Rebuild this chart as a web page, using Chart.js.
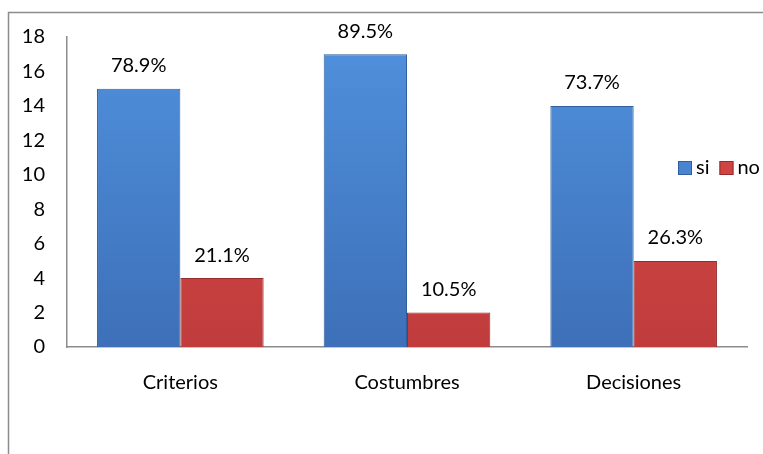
<!DOCTYPE html>
<html lang="es">
<head>
    <meta charset="UTF-8">
    <title>si / no</title>
    <style>
        body {
            margin: 0;
            background: #fff;
        }
        #wrap {
            width: 763px;
            height: 454px;
        }
    </style>
</head>
<body>
    <div id="wrap"><canvas id="chart" width="763" height="454"></canvas></div>

    <script src="https://cdn.jsdelivr.net/npm/chart.js"></script>
    <script>
        const categories = ['Criterios', 'Costumbres', 'Decisiones'];
        const siValues = [15, 17, 14];
        const noValues = [4, 2, 5];
        const siLabels = ['78.9%', '89.5%', '73.7%'];
        const noLabels = ['21.1%', '10.5%', '26.3%'];
        const yTicks = [0, 2, 4, 6, 8, 10, 12, 14, 16, 18];

        const FONT = 'Lato, "Open Sans", sans-serif';
        const blue = '#4a84d0';
        const red = '#d14444';

        // soft vertical shading like the office bevel look
        function shade(light, dark) {
            return (c) => {
                const area = c.chart.chartArea;
                if (!area) return light;
                const g = c.chart.ctx.createLinearGradient(0, area.top, 0, area.bottom);
                g.addColorStop(0, light);
                g.addColorStop(1, dark);
                return g;
            };
        }

        // outer frame (only left and top edges are visible in the picture)
        const framePlugin = {
            id: 'frame',
            beforeDraw(chart) {
                const ctx = chart.ctx;
                ctx.save();
                ctx.strokeStyle = '#8c8c8c';
                ctx.lineWidth = 1.5;
                ctx.beginPath();
                ctx.moveTo(8.5, chart.height);
                ctx.lineTo(8.5, 12.5);
                ctx.lineTo(chart.width, 12.5);
                ctx.stroke();
                ctx.restore();
            }
        };

        // percentage labels above each bar
        const valueLabels = {
            id: 'valueLabels',
            afterDatasetsDraw(chart) {
                const ctx = chart.ctx;
                ctx.save();
                ctx.font = '20px ' + FONT;
                ctx.fillStyle = '#000';
                ctx.textAlign = 'center';
                ctx.textBaseline = 'bottom';
                [siLabels, noLabels].forEach((labels, i) => {
                    chart.getDatasetMeta(i).data.forEach((bar, j) => {
                        ctx.fillText(labels[j], bar.x, bar.y - 13);
                    });
                });
                ctx.restore();
            }
        };

        // legend sitting on the right, over the plot
        const legendColors = [blue, red];
        const sideLegend = {
            id: 'sideLegend',
            afterDraw(chart) {
                const ctx = chart.ctx;
                const y = 168;
                let x = 678;
                ctx.save();
                ctx.font = '20px ' + FONT;
                ctx.textBaseline = 'middle';
                chart.data.datasets.forEach((ds, i) => {
                    ctx.fillStyle = legendColors[i];
                    ctx.fillRect(x, y - 7, 14, 14);
                    ctx.strokeStyle = ds.borderColor;
                    ctx.lineWidth = 1;
                    ctx.strokeRect(x + 0.5, y - 6.5, 13, 13);
                    ctx.fillStyle = '#000';
                    ctx.fillText(ds.label, x + 18, y);
                    x += 18 + ctx.measureText(ds.label).width + 10;
                });
                ctx.restore();
            }
        };

        new Chart(document.getElementById('chart'), {
            type: 'bar',
            data: {
                labels: categories,
                datasets: [
                    { label: 'si', data: siValues, backgroundColor: shade('#5090dc', '#3d70b8'), borderColor: '#2f5f9e', borderWidth: 1 },
                    { label: 'no', data: noValues, backgroundColor: shade('#dc4c4c', '#c03c3c'), borderColor: '#962c2c', borderWidth: 1 }
                ]
            },
            options: {
                responsive: false,
                animation: false,
                events: [],
                layout: { padding: { left: 8, top: 37, right: 16, bottom: 0 } },
                datasets: {
                    bar: { categoryPercentage: 0.735, barPercentage: 1 }
                },
                plugins: {
                    legend: { display: false },
                    tooltip: { enabled: false }
                },
                scales: {
                    x: {
                        grid: { display: false, drawTicks: false },
                        border: { color: '#8c8c8c', width: 1.5 },
                        ticks: { color: '#000', font: { family: FONT, size: 20 }, padding: 24 },
                        afterFit(axis) { axis.height = 107; }
                    },
                    y: {
                        min: 0,
                        max: 18,
                        grid: { display: false, drawTicks: false },
                        border: { color: '#8c8c8c', width: 1.5 },
                        afterBuildTicks(axis) { axis.ticks = yTicks.map(v => ({ value: v })); },
                        ticks: { color: '#000', font: { family: FONT, size: 20 }, padding: 22 },
                        afterFit(axis) { axis.width = 59; }
                    }
                }
            },
            plugins: [framePlugin, valueLabels, sideLegend]
        });
    </script>
</body>
</html>
